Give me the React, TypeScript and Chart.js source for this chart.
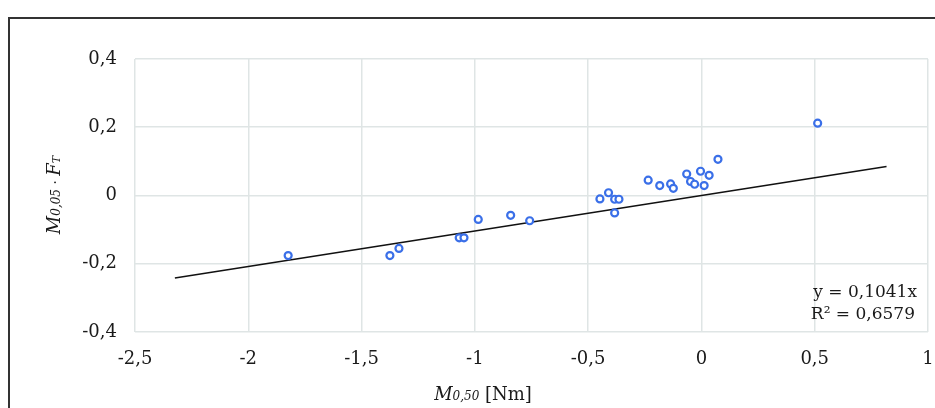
import React, { useEffect, useRef } from "react";
import { Chart, registerables } from "chart.js";

Chart.register(...registerables);

// Measured points: M0,50 [Nm] (x) vs M0,05 · FT (y)
const xValues = [
  -1.824, -1.375, -1.335, -1.069, -1.048, -0.985, -0.842, -0.758,
  -0.448, -0.41, -0.383, -0.364, -0.383, -0.235, -0.184, -0.136,
  -0.124, -0.065, -0.048, -0.03, -0.004, 0.012, 0.034, 0.073, 0.513,
];
const yValues = [
  -0.176, -0.176, -0.155, -0.124, -0.124, -0.07, -0.058, -0.074,
  -0.01, 0.008, -0.011, -0.011, -0.051, 0.045, 0.029, 0.034,
  0.021, 0.063, 0.041, 0.033, 0.071, 0.029, 0.059, 0.106, 0.212,
];

// Linear trendline through origin: y = 0.1041x
const trendSlope = 0.1041;
const trendXRange = [-2.324, 0.817];
const trendLabels = ["y = 0,1041x", "R² = 0,6579"];

const xTicks = { min: -2.5, max: 1, step: 0.5 };
const yTicks = { min: -0.4, max: 0.4, step: 0.2 };

const FONT = "'DejaVu Serif', serif";

const fmt = (v: number) => {
  const r = Math.round(v * 10) / 10;
  return (Object.is(r, -0) ? 0 : r).toString().replace(".", ",");
};

type Seg = { t: string; size: number; italic?: boolean; dy?: number };

function drawSegs(ctx: CanvasRenderingContext2D, segs: Seg[], cx: number, cy: number) {
  let total = 0;
  const widths = segs.map((s) => {
    ctx.font = `${s.italic ? "italic " : ""}${s.size}px ${FONT}`;
    const w = ctx.measureText(s.t).width;
    total += w;
    return w;
  });
  let x = cx - total / 2;
  segs.forEach((s, i) => {
    ctx.font = `${s.italic ? "italic " : ""}${s.size}px ${FONT}`;
    ctx.fillText(s.t, x, cy + (s.dy || 0));
    x += widths[i];
  });
}

const textPlugin = {
  id: "customText",
  afterDraw(chart: any) {
    const ctx = chart.ctx as CanvasRenderingContext2D;
    ctx.save();
    ctx.fillStyle = "#1a1a1a";
    ctx.textBaseline = "alphabetic";
    ctx.textAlign = "left";
    // x-axis title
    drawSegs(
      ctx,
      [
        { t: "M", size: 18, italic: true },
        { t: "0,50", size: 12, italic: true },
        { t: " [Nm]", size: 18 },
      ],
      483,
      400
    );
    // y-axis title (rotated)
    ctx.translate(60, 195);
    ctx.rotate(-Math.PI / 2);
    drawSegs(
      ctx,
      [
        { t: "M", size: 18, italic: true },
        { t: "0,05", size: 12, italic: true },
        { t: " · ", size: 14 },
        { t: "F", size: 18, italic: true },
        { t: "T", size: 11, italic: true },
      ],
      0,
      0
    );
    ctx.restore();
    // trendline equation
    ctx.save();
    ctx.fillStyle = "#1a1a1a";
    ctx.textAlign = "right";
    ctx.textBaseline = "middle";
    ctx.font = `17px ${FONT}`;
    ctx.fillText(trendLabels[0], 917, 293);
    ctx.fillText(trendLabels[1], 915, 315);
    ctx.restore();
  },
};

export default function App() {
  const ref = useRef<HTMLCanvasElement | null>(null);

  useEffect(() => {
    if (!ref.current) return;
    const points = xValues.map((x, i) => ({ x, y: yValues[i] }));
    const trend = trendXRange.map((x) => ({ x, y: trendSlope * x }));
    const gridColor = "#dfe5e5";
    const chart = new Chart(ref.current, {
      type: "scatter",
      data: {
        datasets: [
          {
            label: "data",
            data: points,
            pointStyle: "circle",
            pointRadius: 3.5,
            pointBorderWidth: 2.2,
            borderColor: "#3a6fe8",
            backgroundColor: "#ffffff",
            order: 0,
          } as any,
          {
            type: "line",
            label: "trend",
            data: trend,
            borderColor: "#111111",
            borderWidth: 1.5,
            pointRadius: 0,
            fill: false,
            order: 1,
          } as any,
        ],
      },
      options: {
        animation: false,
        responsive: false,
        devicePixelRatio: 1,
        layout: { padding: { top: 59, right: 0, bottom: 0, left: 0 } },
        plugins: { legend: { display: false }, tooltip: { enabled: false }, title: { display: false } },
        scales: {
          x: {
            type: "linear",
            min: xTicks.min,
            max: xTicks.max,
            ticks: {
              stepSize: xTicks.step,
              callback: (v: any) => fmt(Number(v)),
              font: { family: FONT, size: 18 },
              color: "#1a1a1a",
              padding: 17,
              maxRotation: 0,
            },
            grid: { color: gridColor, lineWidth: 1.5, drawTicks: false },
            border: { display: false },
            afterFit: (s: any) => {
              s.height = 76;
              s.paddingRight = 7;
            },
          },
          y: {
            type: "linear",
            min: yTicks.min,
            max: yTicks.max,
            ticks: {
              stepSize: yTicks.step,
              callback: (v: any) => fmt(Number(v)),
              font: { family: FONT, size: 18 },
              color: "#1a1a1a",
              padding: 18,
            },
            grid: { color: gridColor, lineWidth: 1.5, drawTicks: false },
            border: { display: false },
            afterFit: (s: any) => {
              s.width = 135;
            },
          },
        },
      },
      plugins: [textPlugin],
    });
    return () => chart.destroy();
  }, []);

  return (
    <div
      style={{
        position: "fixed",
        left: 0,
        top: 0,
        width: 935,
        height: 408,
        overflow: "hidden",
        background: "#ffffff",
      }}
    >
      <div
        style={{
          position: "absolute",
          left: 8,
          top: 17,
          width: 1000,
          height: 600,
          border: "2px solid #333333",
          boxSizing: "border-box",
        }}
      />
      <canvas
        ref={ref}
        width={935}
        height={408}
        style={{ position: "absolute", left: 0, top: 0, width: 935, height: 408 }}
      />
    </div>
  );
}
